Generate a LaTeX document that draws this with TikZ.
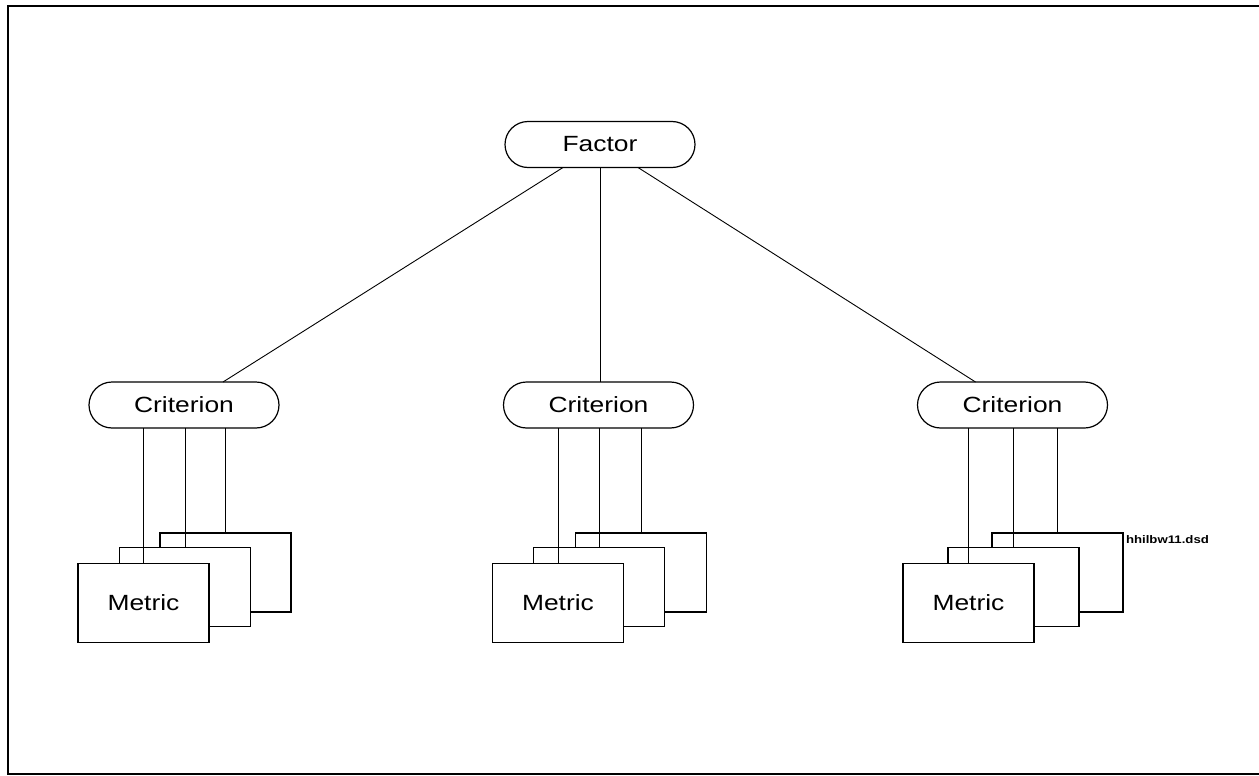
\documentclass[tikz,border=0pt]{standalone}
\usepackage{fontspec}
\setmainfont{Liberation Sans}[FakeStretch=1.2]
\usepackage{tikz}

\begin{document}
\begin{tikzpicture}[x=1pt,y=-1pt,
  every node/.style={outer sep=0pt, inner sep=0pt},
  oval/.style={draw, line width=1.2pt, rounded corners=23pt, minimum width=190pt, minimum height=46pt, font=\fontsize{22}{25}\selectfont},
  card/.style={draw, fill=white, line width=1.1pt, minimum width=131pt, minimum height=79pt, font=\fontsize{22}{25}\selectfont},
  link/.style={line width=0.9pt}]
\useasboundingbox (0,0) rectangle (1259,776);
\draw[line width=2.5pt] (1259,6) -- (8,6) -- (8,774) -- (1259,774);

\node[oval] (factor) at (600,144.5) {Factor};
\node[oval] (crit1) at (184,405) {Criterion};
\node[oval] (crit2) at (598.5,405) {Criterion};
\node[oval] (crit3) at (1012.5,405) {Criterion};

\node[card] (met13) at (225.5,572.5) {};
\node[card] (met12) at (185,587) {};
\node[card] (met11) at (143.5,603) {Metric};

\node[card] (met23) at (641,572.5) {};
\node[card] (met22) at (599,587) {};
\node[card] (met21) at (558,603) {Metric};

\node[card] (met33) at (1057.5,572.5) {};
\node[card] (met32) at (1013.5,587) {};
\node[card] (met31) at (968.5,603) {Metric};

\draw[link] ([xshift=-37pt]factor.south) -- ([xshift=39pt]crit1.north);
\draw[link] (factor.south) -- (factor.south |- crit2.north);
\draw[link] ([xshift=38pt]factor.south) -- ([xshift=-37pt]crit3.north);

\draw[link] (met11.north) -- (met11.north |- crit1.south);
\draw[link] (met12.north) -- (met12.north |- crit1.south);
\draw[link] (met13.north) -- (met13.north |- crit1.south);
\draw[link] (met21.north) -- (met21.north |- crit2.south);
\draw[link] (met22.north) -- (met22.north |- crit2.south);
\draw[link] (met23.north) -- (met23.north |- crit2.south);
\draw[link] (met31.north) -- (met31.north |- crit3.south);
\draw[link] (met32.north) -- (met32.north |- crit3.south);
\draw[link] (met33.north) -- (met33.north |- crit3.south);

\node[anchor=west, font=\fontsize{11}{13}\selectfont\bfseries] (tag) at (1126,540) {hhilbw11.dsd};
\end{tikzpicture}
\end{document}
